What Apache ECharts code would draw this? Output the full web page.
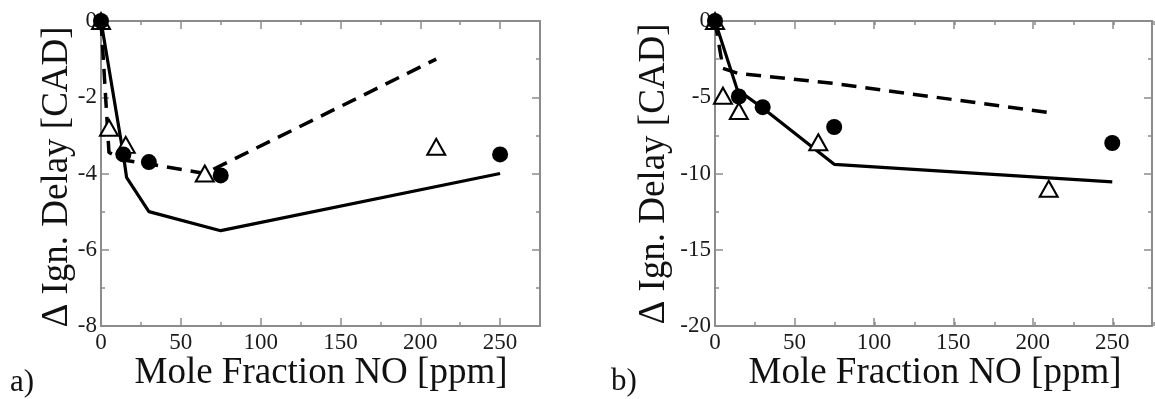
<!DOCTYPE html>
<html>
<head>
<meta charset="utf-8">
<script src="https://cdn.jsdelivr.net/npm/echarts@6/dist/echarts.min.js"></script>
<style>
html,body{margin:0;padding:0;background:#fff;}
#chart{width:1155px;height:399px;}
</style>
</head>
<body>
<div id="chart"></div>
<script>
// ---- data ----
// panel a)
const solidAX = [0, 14, 16, 30, 75, 250];
const solidAY = [0, -3.5, -4.1, -5.0, -5.5, -4.0];
const dashAX = [0, 5, 15, 30, 65, 210];
const dashAY = [0, -3.45, -3.65, -3.75, -4.0, -1.0];
const triAX = [0, 5, 15.5, 65, 210];
const triAY = [0, -2.8, -3.25, -4.0, -3.3];
const circAX = [0, 14, 30, 75, 250];
const circAY = [0, -3.5, -3.7, -4.05, -3.5];
// panel b)
const solidBX = [0, 14, 30, 75, 250];
const solidBY = [0, -4.5, -5.7, -9.4, -10.55];
const dashBX = [0, 5, 15, 30, 75, 210];
const dashBY = [0, -3.1, -3.45, -3.6, -4.1, -6.0];
const triBX = [0, 5, 15, 65, 210];
const triBY = [0, -4.9, -5.9, -7.95, -11.0];
const circBX = [0, 15, 30, 75, 250];
const circBY = [0, -4.95, -5.65, -6.95, -8.0];
// axes
const xMin = 0, xMax = 275, xMajor = 50, xMinor = 25;
const yRangeA = [-8, 0], yMajorA = 2;
const yRangeB = [-20, 0], yMajorB = 5;
const xTitle = 'Mole Fraction NO [ppm]';
const yTitle = '\u0394 Ign. Delay [CAD]';
const panelLabels = ['a)', 'b)'];

const pairs = (xs, ys) => xs.map((x, i) => [x, ys[i]]);
const FONT = 'Liberation Serif';
const GREY = '#8c8c8c';

const boxes = [
  {left: 101, top: 21, width: 439, height: 305},
  {left: 715, top: 21, width: 439, height: 305}
];
// each panel: one grid for the frame/major ticks, one overlaid grid for x minor ticks
const grids = [];
boxes.forEach(b => { grids.push(Object.assign({}, b)); grids.push(Object.assign({}, b)); });

const xAxes = [], yAxes = [];
boxes.forEach((b, pi) => {
  const gMain = pi * 2, gMinor = pi * 2 + 1;
  ['bottom', 'top'].forEach(pos => {
    xAxes.push({
      type: 'value', gridIndex: gMain, position: pos, min: xMin, max: xMax, interval: xMajor,
      axisLine: {show: true, onZero: false, lineStyle: {color: GREY, width: 2}},
      axisTick: {show: true, inside: true, length: 8, lineStyle: {color: GREY, width: 1.5}},
      axisLabel: {show: pos === 'bottom', margin: 5, color: '#1a1a1a', fontFamily: FONT, fontSize: 23,
        formatter: v => (v % xMajor === 0 && v <= 250) ? String(v) : ''},
      splitLine: {show: false}
    });
  });
  ['bottom', 'top'].forEach(pos => {
    xAxes.push({
      type: 'value', gridIndex: gMinor, position: pos, min: xMin, max: xMax, interval: xMinor,
      axisLine: {show: false, onZero: false},
      axisTick: {show: true, inside: true, length: 4, lineStyle: {color: GREY, width: 1.5}},
      axisLabel: {show: false},
      splitLine: {show: false}
    });
  });
  const yr = pi === 0 ? yRangeA : yRangeB;
  const yi = pi === 0 ? yMajorA : yMajorB;
  ['left', 'right'].forEach(pos => {
    yAxes.push({
      type: 'value', gridIndex: gMain, position: pos, min: yr[0], max: yr[1], interval: yi,
      axisLine: {show: true, onZero: false, lineStyle: {color: GREY, width: 2}},
      axisTick: {show: true, inside: true, length: 8, lineStyle: {color: GREY, width: 1.5}},
      minorTick: {show: true, splitNumber: 2, length: 4, lineStyle: {color: GREY, width: 1.5}},
      axisLabel: {show: pos === 'left', margin: 4, color: '#1a1a1a', fontFamily: FONT, fontSize: 23,
        showMinLabel: true, showMaxLabel: true},
      splitLine: {show: false}
    });
  });
  yAxes.push({
    type: 'value', gridIndex: gMinor, min: yr[0], max: yr[1], show: false
  });
});
// xAxis indices: panel p -> main bottom = p*4 ; yAxis indices: panel p -> main left = p*3

function panelSeries(pi, dX, dY, sX, sY, tX, tY, cX, cY) {
  const xi = pi * 4, yi = pi * 3;
  return [
    {type: 'line', xAxisIndex: xi, yAxisIndex: yi, data: pairs(dX, dY), symbol: 'none',
     lineStyle: {color: '#000', width: 3.5, type: [15, 9]}, z: 2, silent: true},
    {type: 'line', xAxisIndex: xi, yAxisIndex: yi, data: pairs(sX, sY), symbol: 'none',
     lineStyle: {color: '#000', width: 3.2}, z: 2, silent: true},
    {type: 'scatter', xAxisIndex: xi, yAxisIndex: yi, data: pairs(tX, tY), symbol: 'triangle',
     symbolSize: [18, 16], itemStyle: {color: '#fff', borderColor: '#000', borderWidth: 2, opacity: 1}, z: 3},
    {type: 'scatter', xAxisIndex: xi, yAxisIndex: yi, data: pairs(cX, cY), symbol: 'circle',
     symbolSize: 16, itemStyle: {color: '#000', opacity: 1}, z: 4}
  ];
}

const series = [
  ...panelSeries(0, dashAX, dashAY, solidAX, solidAY, triAX, triAY, circAX, circAY),
  ...panelSeries(1, dashBX, dashBY, solidBX, solidBY, triBX, triBY, circBX, circBY)
];

const titleStyle = {fontFamily: FONT, fontSize: 37, fill: '#111', textAlign: 'center', textVerticalAlign: 'middle'};
const graphic = [
  {type: 'text', x: 57, y: 177, rotation: Math.PI / 2, style: Object.assign({text: yTitle}, titleStyle)},
  {type: 'text', x: 654, y: 174, rotation: Math.PI / 2, style: Object.assign({text: yTitle}, titleStyle)},
  {type: 'text', x: 321, y: 373, style: Object.assign({text: xTitle}, titleStyle)},
  {type: 'text', x: 935, y: 373, style: Object.assign({text: xTitle}, titleStyle)},
  {type: 'text', x: 10, y: 383, style: {text: panelLabels[0], fontFamily: FONT, fontSize: 31, fill: '#111', textAlign: 'left', textVerticalAlign: 'middle'}},
  {type: 'text', x: 611, y: 382, style: {text: panelLabels[1], fontFamily: FONT, fontSize: 31, fill: '#111', textAlign: 'left', textVerticalAlign: 'middle'}}
];

const chart = echarts.init(document.getElementById('chart'), null, {renderer: 'canvas'});
chart.setOption({
  animation: false,
  backgroundColor: '#fff',
  grid: grids,
  xAxis: xAxes,
  yAxis: yAxes,
  series: series,
  graphic: graphic
});
</script>
</body>
</html>
